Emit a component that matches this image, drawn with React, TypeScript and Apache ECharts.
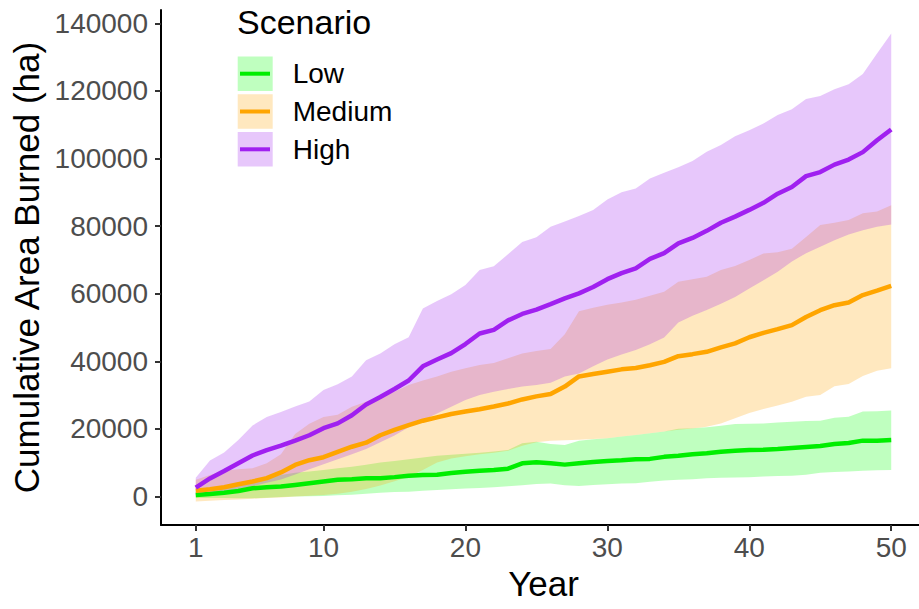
import React, { useEffect, useRef } from "react";
import * as echarts from "echarts";

const years = Array.from({ length: 50 }, (_, i) => i + 1);
const scenarios = ["Low", "Medium", "High"];
const xTicks = [1, 10, 20, 30, 40, 50];
const yTicks = [0, 20000, 40000, 60000, 80000, 100000, 120000, 140000];

const lowMean = [400, 700, 1100, 1600, 2400, 2700, 2900, 3400, 3900, 4400, 4900, 5100, 5400, 5400, 5700, 6100, 6300, 6400, 6900, 7300, 7600, 7800, 8200, 9800, 10100, 9800, 9400, 9800, 10200, 10500, 10700, 11000, 11100, 11700, 12000, 12500, 12800, 13200, 13500, 13700, 13800, 14000, 14300, 14600, 14900, 15500, 15800, 16500, 16500, 16700];
const lowUpper = [1200, 2000, 3000, 4000, 4900, 5600, 6300, 7000, 7400, 7800, 8300, 8800, 9400, 10000, 10500, 11000, 11500, 12000, 12300, 12600, 12900, 13300, 13700, 15700, 16200, 15500, 15200, 16500, 16900, 17200, 17700, 18200, 18700, 19200, 20000, 20200, 20500, 20900, 21400, 21500, 21600, 21900, 22100, 22300, 22400, 23300, 23600, 25100, 25200, 25400];
const lowLower = [-500, -500, -500, -550, -550, -400, -200, -50, 50, 150, 300, 450, 750, 1100, 1300, 1400, 1700, 1900, 2100, 2300, 2500, 2700, 3000, 3300, 3700, 3800, 3300, 3100, 3400, 3600, 3800, 3900, 4300, 4700, 4900, 5100, 5400, 5500, 5600, 5700, 5900, 6000, 6100, 6400, 7000, 7200, 7400, 7600, 7700, 7800];

const medMean = [1700, 2100, 2700, 3600, 4400, 5400, 7100, 9300, 10700, 11600, 13200, 14700, 15900, 18100, 19700, 21100, 22400, 23400, 24400, 25100, 25800, 26600, 27500, 28700, 29600, 30300, 32500, 35500, 36200, 36900, 37600, 38000, 38800, 39800, 41500, 42100, 42800, 44100, 45300, 47100, 48400, 49500, 50700, 53100, 55100, 56600, 57400, 59600, 60900, 62300];
const medUpper = [4900, 6300, 7600, 8000, 8300, 9800, 12500, 18500, 21500, 23500, 24200, 26500, 28000, 29500, 31000, 33000, 34300, 35500, 36900, 37900, 38900, 39500, 40900, 42300, 43000, 43600, 48000, 54800, 55800, 56700, 57400, 58200, 59400, 60600, 63500, 64300, 65000, 67000, 68200, 70000, 71900, 72300, 73300, 76800, 80300, 81000, 81800, 83800, 84300, 86200];
const medLower = [-1500, -1300, -1100, -900, -700, -500, -300, 0, 200, 400, 800, 1400, 2200, 3200, 4500, 5800, 7800, 10000, 11200, 11900, 12500, 12900, 13500, 15000, 16000, 16500, 16600, 16800, 17000, 17200, 17700, 18200, 18700, 19200, 19700, 20100, 20600, 21600, 23100, 24700, 25900, 26900, 28000, 29500, 30000, 32600, 33300, 35600, 37200, 37900];

const highMean = [2600, 5300, 7500, 9800, 12100, 13700, 15000, 16500, 18100, 20200, 21600, 24000, 27200, 29400, 31800, 34300, 38500, 40500, 42400, 45100, 48200, 49300, 52100, 54000, 55300, 56900, 58600, 60100, 62000, 64300, 66100, 67500, 70300, 72000, 74900, 76500, 78600, 81000, 82800, 84800, 86900, 89600, 91600, 94800, 96000, 98200, 99700, 101900, 105400, 108600];
const highUpper = [5500, 10600, 13000, 16700, 21000, 23500, 25000, 26600, 28100, 31500, 33200, 35500, 40300, 42300, 45000, 47100, 55600, 57800, 59800, 62600, 67000, 68100, 71700, 75300, 76700, 79800, 81400, 83000, 84800, 87900, 90000, 91100, 94100, 95800, 97400, 99300, 102000, 104000, 106600, 108400, 110400, 112900, 114600, 117600, 118500, 120500, 122000, 125000, 131100, 137000];
const highLower = [500, 1000, 1500, 2200, 3000, 4000, 5000, 6500, 8000, 9500, 11000, 12500, 14000, 16000, 18000, 20500, 22500, 24500, 26500, 28500, 30000, 31000, 31800, 32500, 33000, 33600, 35500, 36400, 38500, 40500, 42000, 43300, 45000, 47000, 51500, 53500, 55200, 57000, 59000, 61500, 64000, 66500, 69500, 72000, 73900, 75800, 77500, 78800, 79800, 80500];

const lineColors = ["#00EE00", "#FFA500", "#A020F0"];
const fillColors = ["rgba(0,255,0,0.25)", "rgba(255,165,0,0.25)", "rgba(160,32,240,0.25)"];
const means = [lowMean, medMean, highMean];
const uppers = [lowUpper, medUpper, highUpper];
const lowers = [lowLower, medLower, highLower];

const FONT = "Liberation Sans, Arial, sans-serif";

export default function App() {
  const ref = useRef<HTMLDivElement>(null);
  useEffect(() => {
    if (!ref.current) return;
    const chart = echarts.init(ref.current, null, { renderer: "svg" });
    const series: any[] = [];
    scenarios.forEach((name, s) => {
      const lo = lowers[s];
      const up = uppers[s];
      series.push({
        type: "custom",
        name: name + " band",
        silent: true,
        data: years.map((yr, i) => [yr, lo[i], up[i]]),
        encode: { x: 0, y: [1, 2] },
        renderItem: (params: any, api: any) => {
          if (params.dataIndex !== 0) return null;
          const pts: number[][] = [];
          for (let i = 0; i < years.length; i++) pts.push(api.coord([years[i], up[i]]));
          for (let i = years.length - 1; i >= 0; i--) pts.push(api.coord([years[i], lo[i]]));
          return { type: "polygon", shape: { points: pts }, style: { fill: fillColors[s], stroke: "none" } };
        },
      });
      series.push({
        type: "line",
        name,
        data: years.map((yr, i) => [yr, means[s][i]]),
        showSymbol: false,
        silent: true,
        lineStyle: { color: lineColors[s], width: 4.5 },
        itemStyle: { color: lineColors[s] },
      });
    });

    const legendChildren: any[] = [
      { type: "text", x: 237, y: 22, style: { text: "Scenario", font: `34px ${FONT}`, fill: "#000", verticalAlign: "middle" } },
    ];
    scenarios.forEach((name, s) => {
      const top = 56.5 + s * 37.8;
      const cy = top + 17.2;
      legendChildren.push({ type: "rect", shape: { x: 237.7, y: top, width: 35, height: 34.4 }, style: { fill: fillColors[s] } });
      legendChildren.push({ type: "line", shape: { x1: 240, y1: cy, x2: 270, y2: cy }, style: { stroke: lineColors[s], lineWidth: 4 } });
      legendChildren.push({ type: "text", x: 292.7, y: cy, style: { text: name, font: `28px ${FONT}`, fill: "#000", verticalAlign: "middle" } });
    });

    chart.setOption({
      animation: false,
      backgroundColor: "#fff",
      grid: { left: 161, right: -7, top: 10, bottom: 84, outerBoundsMode: "none", containLabel: false },
      xAxis: {
        type: "value",
        min: -1.45,
        max: 52.45,
        name: "Year",
        nameLocation: "middle",
        nameGap: 40,
        nameTextStyle: { fontSize: 35, color: "#000", fontFamily: FONT },
        axisLine: { onZero: false, lineStyle: { color: "#000", width: 2 } },
        axisTick: { customValues: xTicks, length: 6, lineStyle: { color: "#333", width: 2 } },
        axisLabel: { customValues: xTicks, fontSize: 28, color: "#4D4D4D", fontFamily: FONT, margin: 8, formatter: (v: number) => String(v) },
        splitLine: { show: false },
      },
      yAxis: {
        type: "value",
        min: -8470,
        max: 143970,
        name: "Cumulative Area Burned (ha)",
        nameLocation: "middle",
        nameGap: 112,
        nameTextStyle: { fontSize: 35, color: "#000", fontFamily: FONT },
        axisLine: { onZero: false, lineStyle: { color: "#000", width: 2 } },
        axisTick: { customValues: yTicks, length: 6, lineStyle: { color: "#333", width: 2 } },
        axisLabel: { customValues: yTicks, fontSize: 28, color: "#4D4D4D", fontFamily: FONT, margin: 13, formatter: (v: number) => String(v) },
        splitLine: { show: false },
      },
      graphic: [{ type: "group", children: legendChildren }],
      series,
    });
    return () => chart.dispose();
  }, []);
  return <div ref={ref} style={{ position: "absolute", left: 0, top: 0, width: 919, height: 609 }} />;
}
